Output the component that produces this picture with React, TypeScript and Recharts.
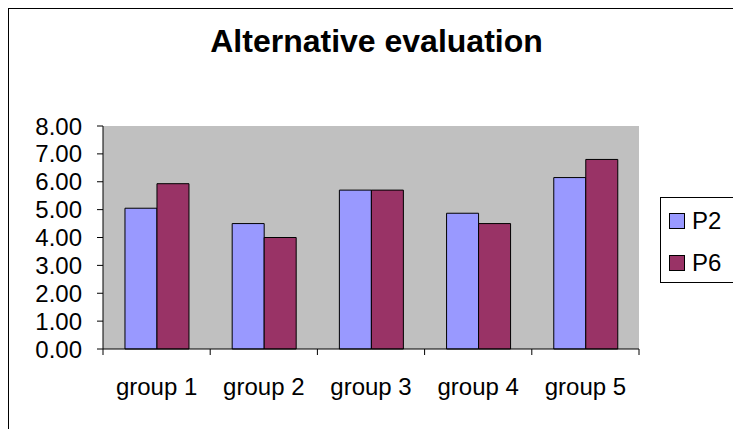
import React from 'react';
import { BarChart, Bar, XAxis, YAxis, CartesianGrid } from 'recharts';

// chart values
const categories = ['group 1', 'group 2', 'group 3', 'group 4', 'group 5'];
const p2Values = [5.05, 4.5, 5.7, 4.87, 6.15];
const p6Values = [5.93, 4.0, 5.7, 4.5, 6.8];
const yTicks = [0, 1, 2, 3, 4, 5, 6, 7, 8];

const seriesNames = ['P2', 'P6'];
const seriesColors = ['#9999FF', '#993366'];

const FONT = '"Liberation Sans", Arial, sans-serif';
const CHART_W = 724;
const CHART_H = 420;
const PLOT_W = 536;
const TICK_SIZE = 6;
const X_TICK_GAP = 23;

const data = categories.map((name, i) => ({
  name,
  P2: p2Values[i],
  P6: p6Values[i],
}));

// category label with tick marks on the band edges instead of the centre
const GroupTick = (props: any) => {
  const { x, y, payload, index } = props;
  const half = payload.offset || PLOT_W / categories.length / 2;
  const axisY = y - TICK_SIZE - X_TICK_GAP;
  return (
    <g>
      <line x1={x - half} x2={x - half} y1={axisY} y2={axisY + TICK_SIZE} stroke="#000" />
      {index === categories.length - 1 && (
        <line x1={x + half} x2={x + half} y1={axisY} y2={axisY + TICK_SIZE} stroke="#000" />
      )}
      <text x={x} y={y} dy="0.71em" textAnchor="middle" fontSize={24} fontFamily={FONT} fill="#000">
        {payload.value}
      </text>
    </g>
  );
};

const LegendBox = () => (
  <div
    style={{
      position: 'absolute',
      left: 651,
      top: 188,
      width: 80,
      height: 86,
      border: '1px solid #000',
      background: '#fff',
      boxSizing: 'border-box',
      fontFamily: FONT,
      fontSize: 24,
      lineHeight: '24px',
    }}
  >
    {seriesNames.map((name, i) => (
      <div key={name} style={{ position: 'absolute', left: 8, top: 11 + i * 42, height: 24 }}>
        <div
          style={{
            position: 'absolute',
            left: 0,
            top: 4,
            width: 16,
            height: 16,
            background: seriesColors[i],
            border: '1px solid #000',
            boxSizing: 'border-box',
          }}
        />
        <span style={{ position: 'absolute', left: 23, top: 0, whiteSpace: 'nowrap' }}>{name}</span>
      </div>
    ))}
  </div>
);

export default function App() {
  return (
    <div
      style={{
        position: 'fixed',
        left: 8,
        top: 8,
        width: 725,
        height: 421,
        borderLeft: '1px solid #000',
        borderTop: '1px solid #000',
        boxSizing: 'border-box',
        background: '#fff',
        overflow: 'hidden',
      }}
    >
      <div
        style={{
          position: 'absolute',
          left: 0,
          top: 16,
          width: 735,
          textAlign: 'center',
          fontFamily: FONT,
          fontWeight: 'bold',
          fontSize: 32,
          lineHeight: '32px',
          whiteSpace: 'nowrap',
        }}
      >
        Alternative evaluation
      </div>
      <div style={{ position: 'absolute', left: 0, top: 0 }}>
        <BarChart
          width={CHART_W}
          height={CHART_H}
          data={data}
          margin={{ top: 117, right: 94, bottom: 30, left: 0 }}
          barCategoryGap="20.5%"
          barGap={0}
        >
          <CartesianGrid fill="#C0C0C0" horizontal={false} vertical={false} />
          <XAxis
            dataKey="name"
            height={50}
            axisLine={{ stroke: '#000' }}
            tickLine={false}
            tickSize={TICK_SIZE}
            tickMargin={X_TICK_GAP}
            interval={0}
            tick={<GroupTick />}
          />
          <XAxis xAxisId="top" dataKey="name" orientation="top" height={0} tick={false} tickLine={false} axisLine={{ stroke: '#808080' }} />
          <YAxis
            width={94}
            domain={[0, 8]}
            ticks={yTicks}
            interval={0}
            tickFormatter={(v: number) => v.toFixed(2)}
            axisLine={{ stroke: '#000' }}
            tickLine={{ stroke: '#000' }}
            tickSize={TICK_SIZE}
            tickMargin={15}
            tick={{ fontSize: 24, fill: '#000', fontFamily: FONT }}
          />
          <YAxis yAxisId="right" orientation="right" width={0} domain={[0, 8]} tick={false} tickLine={false} axisLine={{ stroke: '#808080' }} />
          <Bar dataKey="P2" fill={seriesColors[0]} stroke="#000" strokeWidth={1} isAnimationActive={false} />
          <Bar dataKey="P6" fill={seriesColors[1]} stroke="#000" strokeWidth={1} isAnimationActive={false} />
        </BarChart>
      </div>
      <LegendBox />
    </div>
  );
}
